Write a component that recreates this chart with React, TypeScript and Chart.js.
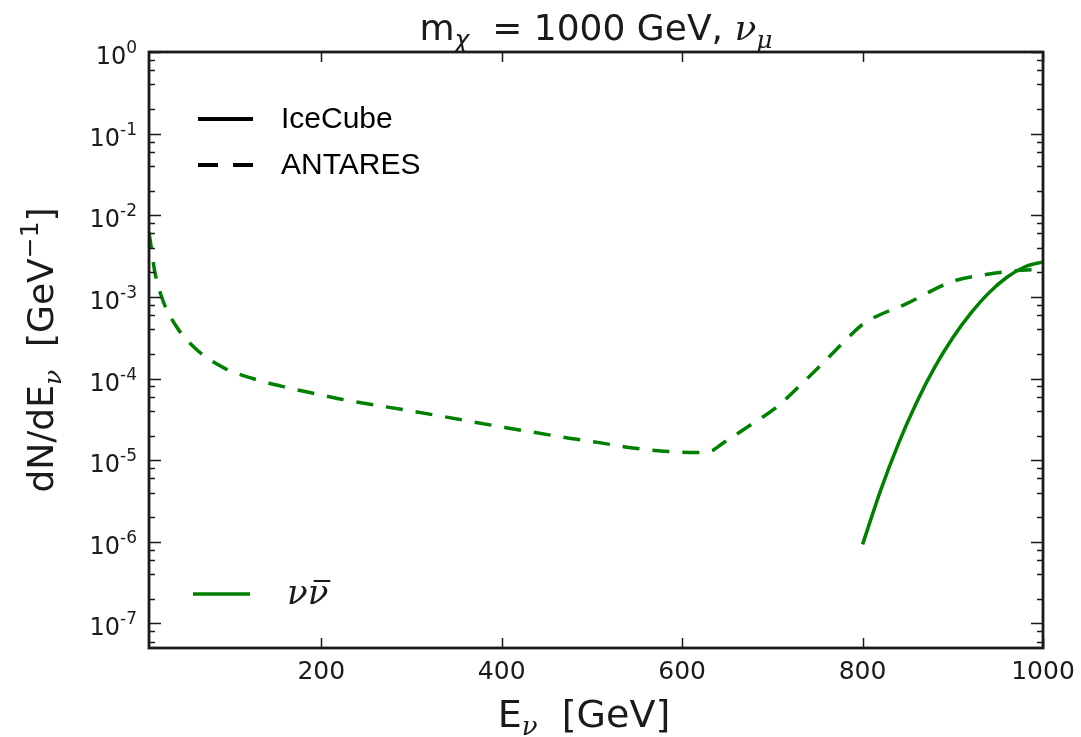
import React, { useEffect, useRef } from "react";
import { Chart, registerables } from "chart.js";

Chart.register(...registerables);

// ---- data ----
const icecubeEnergy = [800, 820, 840, 860, 880, 900, 920, 940, 960, 980, 1000];
const icecubeFlux = [9.3e-7, 4.27e-6, 1.62e-5, 5.13e-5, 1.38e-4, 3.16e-4, 6.31e-4, 1.12e-3, 1.74e-3, 2.34e-3, 2.69e-3];

const antaresEnergy = [9, 12, 15, 24, 39, 61, 92, 124, 159, 194, 229, 300, 405, 475, 508, 543, 579, 616, 630, 647, 677, 704, 732, 756, 782, 800, 850, 900, 937, 966, 1000];
const antaresFlux = [6.2e-3, 3.7e-3, 2.16e-3, 9.3e-4, 4.4e-4, 2.3e-4, 1.35e-4, 1.0e-4, 7.9e-5, 6.5e-5, 5.4e-5, 4.0e-5, 2.5e-5, 1.86e-5, 1.64e-5, 1.42e-5, 1.29e-5, 1.24e-5, 1.27e-5, 1.67e-5, 2.75e-5, 4.4e-5, 8.5e-5, 1.55e-4, 3.0e-4, 4.6e-4, 8.4e-4, 1.55e-3, 1.88e-3, 2.07e-3, 2.19e-3];

const xTickValues = [200, 400, 600, 800, 1000];
const yDecadeExponents = [0, -1, -2, -3, -4, -5, -6, -7];
const yMinorSubs = [2, 4, 6, 8];

const X_MIN = 9;
const X_MAX = 1000;
const Y_MIN = 5e-8;
const Y_MAX = 1;

const GREEN = "#008000";
const INK = "#1a1a1a";

type Run = { text: string; font: string; dy?: number };

function runsWidth(ctx: CanvasRenderingContext2D, runs: Run[]) {
  let w = 0;
  for (const r of runs) {
    ctx.font = r.font;
    w += ctx.measureText(r.text).width;
  }
  return w;
}

function drawRuns(ctx: CanvasRenderingContext2D, runs: Run[], x: number, y: number) {
  let cx = x;
  ctx.textBaseline = "alphabetic";
  ctx.textAlign = "left";
  for (const r of runs) {
    ctx.font = r.font;
    ctx.fillText(r.text, cx, y + (r.dy || 0));
    cx += ctx.measureText(r.text).width;
  }
  return cx;
}

const decorations = {
  id: "decorations",
  afterDraw(chart: any) {
    const ctx: CanvasRenderingContext2D = chart.ctx;
    const { left, right, top, bottom } = chart.chartArea;
    const xs = chart.scales.x;
    const ys = chart.scales.y;
    ctx.save();
    ctx.fillStyle = INK;
    ctx.strokeStyle = INK;

    // frame
    ctx.lineWidth = 2.8;
    ctx.strokeRect(left, top, right - left, bottom - top);

    const seg = (x1: number, y1: number, x2: number, y2: number) => {
      ctx.beginPath();
      ctx.moveTo(x1, y1);
      ctx.lineTo(x2, y2);
      ctx.stroke();
    };

    // x ticks (inward, bottom and top)
    ctx.lineWidth = 1.5;
    for (const v of xTickValues) {
      const px = Math.round(xs.getPixelForValue(v)) + 0.5;
      seg(px, bottom, px, bottom - 10);
      seg(px, top, px, top + 10);
    }
    // y ticks
    const minorAt = (val: number) => {
      if (val < Y_MIN || val > Y_MAX) return;
      const pm = Math.round(ys.getPixelForValue(val)) + 0.5;
      seg(left, pm, left + 6, pm);
      seg(right, pm, right - 6, pm);
    };
    for (const e of yDecadeExponents) {
      const py = Math.round(ys.getPixelForValue(Math.pow(10, e))) + 0.5;
      seg(left, py, left + 12, py);
      seg(right, py, right - 12, py);
      for (const s of yMinorSubs) minorAt(s * Math.pow(10, e - 1));
    }

    // x tick labels
    ctx.font = "25px 'DejaVu Sans'";
    ctx.textAlign = "center";
    ctx.textBaseline = "top";
    for (const v of xTickValues) {
      ctx.fillText(String(v), xs.getPixelForValue(v), bottom + 12);
    }

    // y tick labels
    for (const e of yDecadeExponents) {
      const py = ys.getPixelForValue(Math.pow(10, e));
      const runs: Run[] = [
        { text: "10", font: "24px 'DejaVu Sans'" },
        { text: String(e), font: "17px 'DejaVu Sans'", dy: -11 },
      ];
      const w = runsWidth(ctx, runs);
      drawRuns(ctx, runs, left - 12 - w, py + 12);
    }

    // title
    const titleRuns: Run[] = [
      { text: "m", font: "36px 'DejaVu Sans'" },
      { text: "χ", font: "italic 25px 'DejaVu Sans'", dy: 8 },
      { text: "  = 1000 GeV, ", font: "36px 'DejaVu Sans'" },
      { text: "ν", font: "italic 36px 'DejaVu Serif'" },
      { text: "μ", font: "italic 25px 'DejaVu Serif'", dy: 8 },
    ];
    const tw = runsWidth(ctx, titleRuns);
    drawRuns(ctx, titleRuns, (left + right) / 2 - tw / 2, 40);

    // x label
    const xlRuns: Run[] = [
      { text: "E", font: "38px 'DejaVu Sans'" },
      { text: "ν", font: "italic 26px 'DejaVu Serif'", dy: 8 },
      { text: "  [GeV]", font: "38px 'DejaVu Sans'" },
    ];
    const xw = runsWidth(ctx, xlRuns);
    drawRuns(ctx, xlRuns, 584 - xw / 2, 727);

    // y label (rotated)
    const ylRuns: Run[] = [
      { text: "dN/dE", font: "36px 'DejaVu Sans'" },
      { text: "ν", font: "italic 25px 'DejaVu Serif'", dy: 8 },
      { text: "  [GeV", font: "36px 'DejaVu Sans'" },
      { text: "−1", font: "25px 'DejaVu Sans'", dy: -15 },
      { text: "]", font: "36px 'DejaVu Sans'" },
    ];
    const yw = runsWidth(ctx, ylRuns);
    ctx.save();
    ctx.translate(53, (top + bottom) / 2);
    ctx.rotate(-Math.PI / 2);
    drawRuns(ctx, ylRuns, -yw / 2, 0);
    ctx.restore();

    // legend: line styles
    ctx.lineWidth = 4;
    ctx.strokeStyle = "#000";
    ctx.setLineDash([]);
    seg(198, 119, 253, 119);
    ctx.setLineDash([20, 15]);
    seg(198, 165, 253, 165);
    ctx.setLineDash([]);
    ctx.fillStyle = "#000";
    ctx.font = "30px 'Liberation Sans'";
    ctx.textAlign = "left";
    ctx.textBaseline = "middle";
    ctx.fillText("IceCube", 281, 120);
    ctx.fillText("ANTARES", 281, 166);

    // legend: channel
    ctx.strokeStyle = GREEN;
    ctx.lineWidth = 3.5;
    seg(193, 594, 250, 594);
    ctx.fillStyle = INK;
    ctx.font = "italic 34px 'DejaVu Serif'";
    ctx.textBaseline = "alphabetic";
    const nuW = ctx.measureText("ν").width;
    ctx.fillText("ν", 287, 604);
    ctx.fillText("ν", 287 + nuW, 604);
    ctx.lineWidth = 2;
    ctx.strokeStyle = INK;
    seg(287 + nuW + 6, 581, 287 + nuW * 2 + 2, 581);

    ctx.restore();
  },
};

export default function App() {
  const canvasRef = useRef<HTMLCanvasElement | null>(null);

  useEffect(() => {
    document.body.style.margin = "0";
    const canvas = canvasRef.current;
    if (!canvas) return;
    const chart = new Chart(canvas, {
      type: "line",
      data: {
        datasets: [
          {
            label: "IceCube νν̄",
            data: icecubeEnergy.map((e, i) => ({ x: e, y: icecubeFlux[i] })),
            borderColor: GREEN,
            borderWidth: 3.5,
            pointRadius: 0,
            cubicInterpolationMode: "monotone",
            fill: false,
          },
          {
            label: "ANTARES νν̄",
            data: antaresEnergy.map((e, i) => ({ x: e, y: antaresFlux[i] })),
            borderColor: GREEN,
            borderWidth: 3.5,
            borderDash: [17, 13],
            pointRadius: 0,
            cubicInterpolationMode: "monotone",
            fill: false,
          },
        ],
      },
      options: {
        animation: false,
        responsive: false,
        devicePixelRatio: 1,
        layout: { padding: { left: 149, right: 38, top: 52, bottom: 89 } },
        plugins: { legend: { display: false }, title: { display: false }, tooltip: { enabled: false } },
        scales: {
          x: { type: "linear", min: X_MIN, max: X_MAX, display: false },
          y: { type: "logarithmic", min: Y_MIN, max: Y_MAX, display: false },
        },
      },
      plugins: [decorations],
    } as any);
    return () => chart.destroy();
  }, []);

  return (
    <div style={{ width: 1081, height: 737, background: "#fff" }}>
      <canvas ref={canvasRef} width={1081} height={737} style={{ display: "block" }} />
    </div>
  );
}
